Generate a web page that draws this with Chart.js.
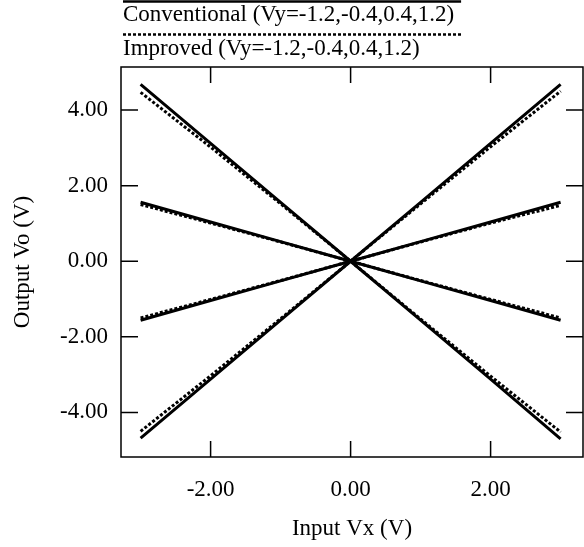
<!DOCTYPE html>
<html>
<head>
<meta charset="utf-8">
<script src="https://cdn.jsdelivr.net/npm/chart.js@4.4.1/dist/chart.umd.min.js"></script>
<style>
  body { margin: 0; background: #fff; }
  canvas { display: block; }
</style>
</head>
<body>
<canvas id="grafico" width="584" height="547"></canvas>
<script>
// Datos
const entradaVx = [-3, -2, -1, 0, 1, 2, 3];

// Convencional
const convVyM12 = [4.68, 3.12, 1.56, 0, -1.56, -3.12, -4.70];
const convVyM04 = [1.56, 1.04, 0.52, 0, -0.52, -1.04, -1.56];
const convVy04 = [-1.56, -1.04, -0.52, 0, 0.52, 1.04, 1.56];
const convVy12 = [-4.68, -3.12, -1.56, 0, 1.56, 3.12, 4.68];

// Mejorado
const mejVyM12 = [4.47, 3.02, 1.52, 0, -1.53, -3.04, -4.52];
const mejVyM04 = [1.50, 1.01, 0.51, 0, -0.51, -1.01, -1.50];
const mejVy04 = [-1.50, -1.01, -0.51, 0, 0.51, 1.01, 1.48];
const mejVy12 = [-4.50, -3.03, -1.52, 0, 1.52, 3.03, 4.50];

const ticksX = [-2, 0, 2];
const ticksY = [-4, -2, 0, 2, 4];
const leyenda = ['Conventional (Vy=-1.2,-0.4,0.4,1.2)', 'Improved (Vy=-1.2,-0.4,0.4,1.2)'];

const fuente = 'Liberation Serif, Times New Roman, serif';

function puntos(ys) {
    return entradaVx.map((x, i) => ({ x: x, y: ys[i] }));
}

function serie(ys, punteada) {
    return {
        data: puntos(ys),
        showLine: true,
        borderColor: '#000',
        borderWidth: 3,
        borderDash: punteada ? [3, 2] : [],
        pointRadius: 0,
        fill: false,
        tension: 0
    };
}

// Marco, marcas hacia dentro y leyenda arriba
const marcoPlugin = {
    id: 'marco',
    afterDraw(chart) {
        const ctx = chart.ctx;
        const a = chart.chartArea;
        const sx = chart.scales.x;
        const sy = chart.scales.y;
        ctx.save();
        ctx.strokeStyle = '#000';
        ctx.lineWidth = 1.5;
        ctx.strokeRect(a.left, a.top, a.right - a.left, a.bottom - a.top);
        ticksX.forEach(v => {
            const px = sx.getPixelForValue(v);
            ctx.beginPath();
            ctx.moveTo(px, a.bottom); ctx.lineTo(px, a.bottom - 16);
            ctx.moveTo(px, a.top); ctx.lineTo(px, a.top + 16);
            ctx.stroke();
        });
        ticksY.forEach(v => {
            const py = sy.getPixelForValue(v);
            ctx.beginPath();
            ctx.moveTo(a.left, py); ctx.lineTo(a.left + 17, py);
            ctx.moveTo(a.right, py); ctx.lineTo(a.right - 17, py);
            ctx.stroke();
        });

        // leyenda
        ctx.font = '23px ' + fuente;
        ctx.fillStyle = '#000';
        ctx.textBaseline = 'alphabetic';
        const ancho = ctx.measureText(leyenda[0]).width + 7;
        const x0 = 123;
        const filas = [{ ds: 0, linea: 1.5, texto: 21 }, { ds: 4, linea: 34.5, texto: 55 }];
        filas.forEach((f, i) => {
            const d = chart.data.datasets[f.ds];
            ctx.beginPath();
            ctx.lineWidth = 2.5;
            ctx.setLineDash(d.borderDash);
            ctx.moveTo(x0, f.linea);
            ctx.lineTo(x0 + ancho, f.linea);
            ctx.stroke();
            ctx.setLineDash([]);
            ctx.fillText(leyenda[i], x0, f.texto);
        });
        ctx.restore();
    }
};

const ctx = document.getElementById('grafico').getContext('2d');
new Chart(ctx, {
    type: 'scatter',
    data: {
        datasets: [
            serie(convVyM12, false),
            serie(convVyM04, false),
            serie(convVy04, false),
            serie(convVy12, false),
            serie(mejVyM12, true),
            serie(mejVyM04, true),
            serie(mejVy04, true),
            serie(mejVy12, true)
        ]
    },
    options: {
        responsive: false,
        animation: false,
        layout: { padding: { top: 67, right: 1, left: 0, bottom: 0 } },
        plugins: {
            legend: { display: false },
            tooltip: { enabled: false }
        },
        scales: {
            x: {
                type: 'linear',
                min: -3.28,
                max: 3.32,
                grid: { display: false },
                border: { display: false },
                afterBuildTicks: s => { s.ticks = ticksX.map(v => ({ value: v })); },
                afterFit: s => { s.height = 90; },
                ticks: {
                    color: '#000',
                    padding: 11,
                    font: { family: fuente, size: 23 },
                    callback: v => v.toFixed(2)
                },
                title: {
                    display: true,
                    text: 'Input Vx (V)',
                    color: '#000',
                    font: { family: fuente, size: 23 },
                    padding: { top: 0, bottom: 4 }
                }
            },
            y: {
                type: 'linear',
                min: -5.18,
                max: 5.14,
                grid: { display: false },
                border: { display: false },
                afterBuildTicks: s => { s.ticks = ticksY.map(v => ({ value: v })); },
                afterFit: s => { s.width = 121; },
                ticks: {
                    color: '#000',
                    padding: 5,
                    font: { family: fuente, size: 23 },
                    callback: v => v.toFixed(2)
                },
                title: {
                    display: true,
                    text: 'Output Vo (V)',
                    color: '#000',
                    font: { family: fuente, size: 23 },
                    padding: { top: 9, bottom: 0 }
                }
            }
        }
    },
    plugins: [marcoPlugin]
});
</script>
</body>
</html>
